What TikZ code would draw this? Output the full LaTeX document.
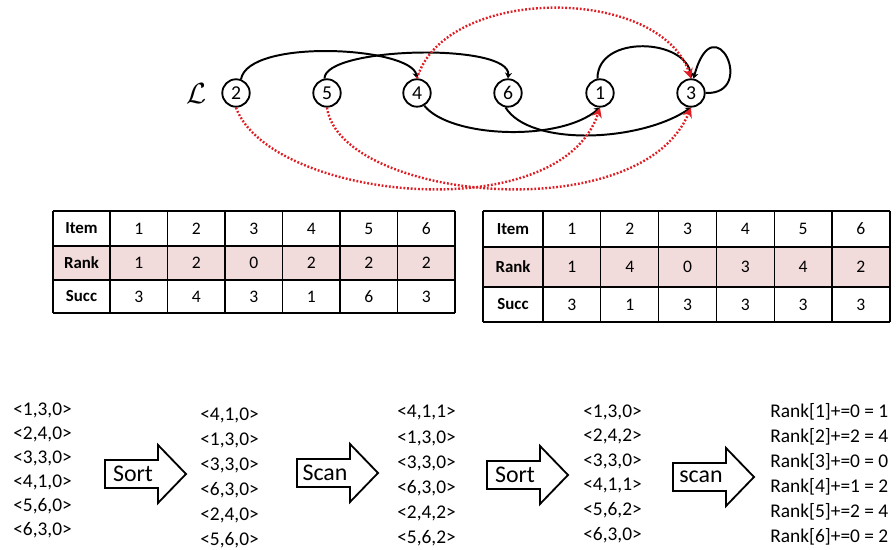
\documentclass[tikz,border=0pt]{standalone}
\usepackage{fontspec}
\setmainfont{Carlito}
\usepackage{tikz}
\usetikzlibrary{arrows.meta}
\definecolor{jump}{RGB}{222,30,36}
\definecolor{rankrow}{RGB}{242,220,219}

\begin{document}
\begin{tikzpicture}[x=0.025cm, y=0.025cm,
  item/.style={circle, draw, line width=1.3pt, minimum size=19.5pt, inner sep=0pt, font=\fontsize{14}{14}\selectfont},
  succ/.style={line width=1.4pt, -{Stealth[length=4pt,width=5pt]}},
  jumpline/.style={jump, line width=1.7pt, dash pattern=on 1.3pt off 1.3pt, -{Stealth[length=7pt,width=7pt]}},
  grid/.style={line width=0.8pt},
  cell/.style={font=\fontsize{12.5}{13}\selectfont},
  head/.style={font=\fontsize{12}{13}\selectfont\bfseries},
  entry/.style={anchor=west, inner sep=0pt, font=\fontsize{13.8}{15}\selectfont},
  oplabel/.style={inner sep=0pt, font=\fontsize{17}{17}\selectfont},
  blockarrow/.style={draw, line width=1.3pt, fill=white}]

\useasboundingbox (0,0) rectangle (896,550);

% ===================== linked list =====================
\foreach \i/\x in {2/236,5/327,4/417,6/508,1/600,3/691}
  \node[item] (n\i) at (\x,457) {\i};
\node[font=\fontsize{20}{20}\selectfont] (L) at (197,456) {$\mathcal{L}$};

% successor pointers
\draw[succ] (n2.70) .. controls +(80:42) and +(100:32) .. (n4.north);
\draw[succ] (n5.100) .. controls +(90:32) and +(85:36) .. (n6.north);
\draw[succ] (n1.100) .. controls +(90:45) and +(95:40) .. (n3.north);
\draw[succ] (n3.east) .. controls (758,455) and (714,548) .. (n3.80);
\draw[succ] (n4.-60) .. controls (450,412) and (560,408) .. (n1.south);
\draw[succ] (n6.-100) .. controls (530,403) and (640,408) .. (n3.south);

% pointer jumping
\draw[jumpline] (n4.north) .. controls (445,565) and (660,565) .. (n3.north);
\draw[jumpline] (n2.south) .. controls (270,350) and (560,320) .. (n1.south);
\draw[jumpline] (n5.south) .. controls (340,350) and (640,320) .. (n3.south);

% ===================== table before =====================
\fill[rankrow] (53,304) rectangle (455,270);
\foreach \y in {339,304,270,237} \draw[grid] (53,\y) -- (455,\y);
\foreach \x in {53,110,167.5,225,282.5,340,397.5,455} \draw[grid] (\x,339) -- (\x,237);
\node[head] (ta-item) at (81.5,321.5) {Item};
\node[head] (ta-rank) at (81.5,287) {Rank};
\node[head] (ta-succ) at (81.5,253.5) {Succ};
\foreach \v [count=\k] in {1,2,3,4,5,6}
  \node[cell] (ta-i\k) at (81.25+57.5*\k,321.5) {\v};
\foreach \v [count=\k] in {1,2,0,2,2,2}
  \node[cell] (ta-r\k) at (81.25+57.5*\k,287) {\v};
\foreach \v [count=\k] in {3,4,3,1,6,3}
  \node[cell] (ta-s\k) at (81.25+57.5*\k,253.5) {\v};

% ===================== table after =====================
\fill[rankrow] (483,303) rectangle (890,263);
\foreach \y in {339,303,263,228} \draw[grid] (483,\y) -- (890,\y);
\foreach \x in {483,543,600.8,658.6,716.4,774.2,832,890} \draw[grid] (\x,339) -- (\x,228);
\node[head] (tb-item) at (513,321) {Item};
\node[head] (tb-rank) at (513,283) {Rank};
\node[head] (tb-succ) at (513,245.5) {Succ};
\foreach \v [count=\k] in {1,2,3,4,5,6}
  \node[cell] (tb-i\k) at (514.1+57.8*\k,321) {\v};
\foreach \v [count=\k] in {1,4,0,3,4,2}
  \node[cell] (tb-r\k) at (514.1+57.8*\k,283) {\v};
\foreach \v [count=\k] in {3,1,3,3,3,3}
  \node[cell] (tb-s\k) at (514.1+57.8*\k,245.5) {\v};

% ===================== sort / scan steps =====================
\foreach \s [count=\k] in {{<1,3,0>},{<2,4,0>},{<3,3,0>},{<4,1,0>},{<5,6,0>},{<6,3,0>}}
  \node[entry] (a\k) at (13,164-24*\k) {\s};
\foreach \s [count=\k] in {{<4,1,0>},{<1,3,0>},{<3,3,0>},{<6,3,0>},{<2,4,0>},{<5,6,0>}}
  \node[entry] (b\k) at (200,160-25*\k) {\s};
\foreach \s [count=\k] in {{<4,1,1>},{<1,3,0>},{<3,3,0>},{<6,3,0>},{<2,4,2>},{<5,6,2>}}
  \node[entry] (c\k) at (397,162-25*\k) {\s};
\foreach \s [count=\k] in {{<1,3,0>},{<2,4,2>},{<3,3,0>},{<4,1,1>},{<5,6,2>},{<6,3,0>}}
  \node[entry] (d\k) at (583,162.6-24.6*\k) {\s};
\foreach \s [count=\k] in {Rank[1]+=0 = 1,Rank[2]+=2 = 4,Rank[3]+=0 = 0,Rank[4]+=1 = 2,Rank[5]+=2 = 4,Rank[6]+=0 = 2}
  \node[entry] (e\k) at (770,163-25*\k) {\s};

\foreach \x/\y/\lab/\k in {105/76/Sort/1,297/77/Scan/2,487/75/Sort/3,673/73/scan/4}{
  \draw[blockarrow] (\x,\y-14) -- ++(53,0) -- ++(0,-15) -- ++(28,29) -- ++(-28,29)
    -- ++(0,-15) -- ++(-53,0) -- cycle;
  \node[oplabel] (op\k) at (\x+28,\y) {\lab};
}

\end{tikzpicture}
\end{document}
